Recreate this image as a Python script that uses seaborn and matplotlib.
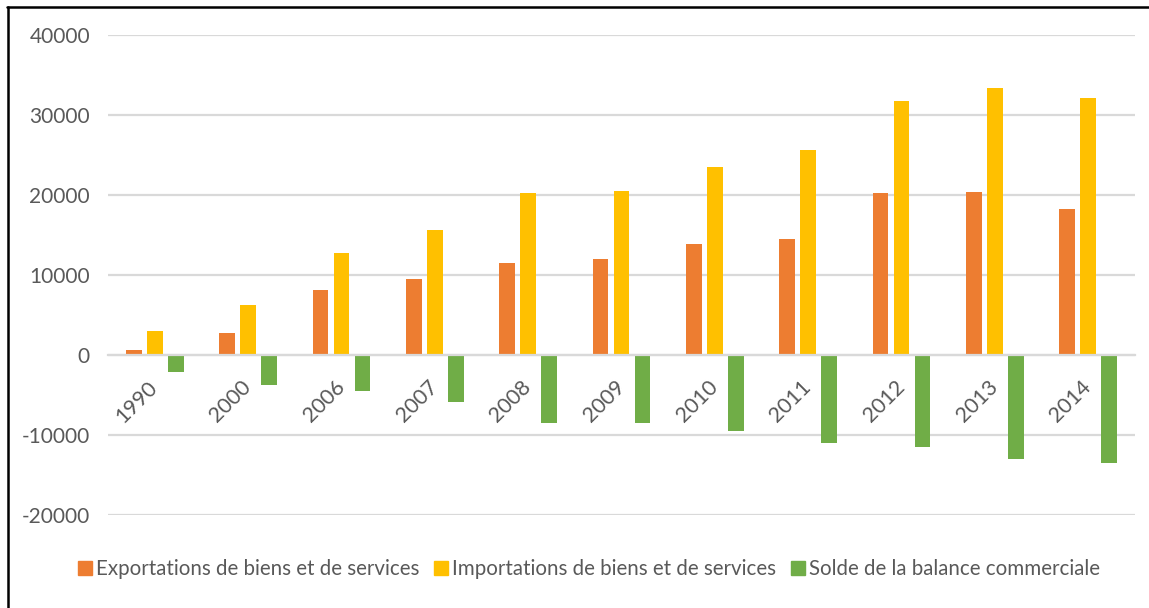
import matplotlib
matplotlib.use("Agg")
import matplotlib.pyplot as plt
import seaborn as sns
import pandas as pd
from matplotlib.lines import Line2D

years = ["1990", "2000", "2006", "2007", "2008", "2009", "2010", "2011", "2012", "2013", "2014"]
exportations = [600, 2700, 8150, 9450, 11550, 12000, 13900, 14550, 20200, 20350, 18300]
importations = [3000, 6250, 12700, 15600, 20250, 20500, 23450, 25600, 31800, 33350, 32100]
solde = [-2100, -3700, -4500, -5850, -8550, -8450, -9500, -11000, -11500, -13050, -13550]

series_names = ["Exportations de biens et de services",
                "Importations de biens et de services",
                "Solde de la balance commerciale"]
colors = ["#ED7D31", "#FFC000", "#70AD47"]
yticks = [-20000, -10000, 0, 10000, 20000, 30000, 40000]

df = pd.DataFrame({
    "year": years * 3,
    "value": exportations + importations + solde,
    "serie": [series_names[0]] * len(years) + [series_names[1]] * len(years) + [series_names[2]] * len(years),
})

sns.set_theme(style="white")
plt.rcParams["font.family"] = ["Lato", "DejaVu Sans"]
text_color = "#595959"
grid_color = "#D9D9D9"

fig = plt.figure(figsize=(11.49, 6.08), dpi=100)
ax = fig.add_axes([108 / 1149, 93 / 608, 1027 / 1149, 480 / 608])

sns.barplot(data=df, x="year", y="value", hue="serie", order=years, hue_order=series_names,
            palette=colors, width=0.675, saturation=1, ax=ax, legend=False)

# narrow bars slightly to leave a gap between them
new_w = 0.168
for p in ax.patches:
    c = p.get_x() + p.get_width() / 2
    p.set_width(new_w)
    p.set_x(c - new_w / 2)
    p.set_edgecolor("none")

ax.set_ylim(-20000, 40000)
ax.set_xlim(-0.5, len(years) - 0.5)
ax.set_yticks(yticks)
ax.set_yticklabels([str(v) for v in yticks])
ax.yaxis.grid(True, color=grid_color, linewidth=1.6)
ax.set_axisbelow(True)
ax.set_xlabel("")
ax.set_ylabel("")

for s in ["top", "right", "left"]:
    ax.spines[s].set_visible(False)
ax.spines["bottom"].set_position(("data", 0))
ax.spines["bottom"].set_color(grid_color)
ax.spines["bottom"].set_linewidth(1.6)

ax.tick_params(axis="y", length=0, pad=13, labelsize=15, labelcolor=text_color)
ax.tick_params(axis="x", length=0, pad=21, labelsize=15.5, labelcolor=text_color)
for lab in ax.get_xticklabels():
    lab.set_rotation(45)
    lab.set_ha("right")
    lab.set_va("center")
    lab.set_rotation_mode("anchor")

handles = [Line2D([0], [0], marker="s", linestyle="none", markersize=9.5,
                  markerfacecolor=c, markeredgecolor=c) for c in colors]
fig.legend(handles, series_names, loc="center", bbox_to_anchor=(589 / 1149, 39 / 608),
           ncol=3, frameon=False, fontsize=14.8, labelcolor=text_color,
           handlelength=0.7, handletextpad=0.2, columnspacing=0.7, borderpad=0)

# frame lines on top and left as in the reference
fig.add_artist(Line2D([7 / 1149, 1], [1 - 7 / 608, 1 - 7 / 608], transform=fig.transFigure,
                      color="black", linewidth=1.8))
fig.add_artist(Line2D([8 / 1149, 8 / 1149], [0, 1 - 7 / 608], transform=fig.transFigure,
                      color="black", linewidth=1.8))

fig.savefig("out.png", dpi=100)
